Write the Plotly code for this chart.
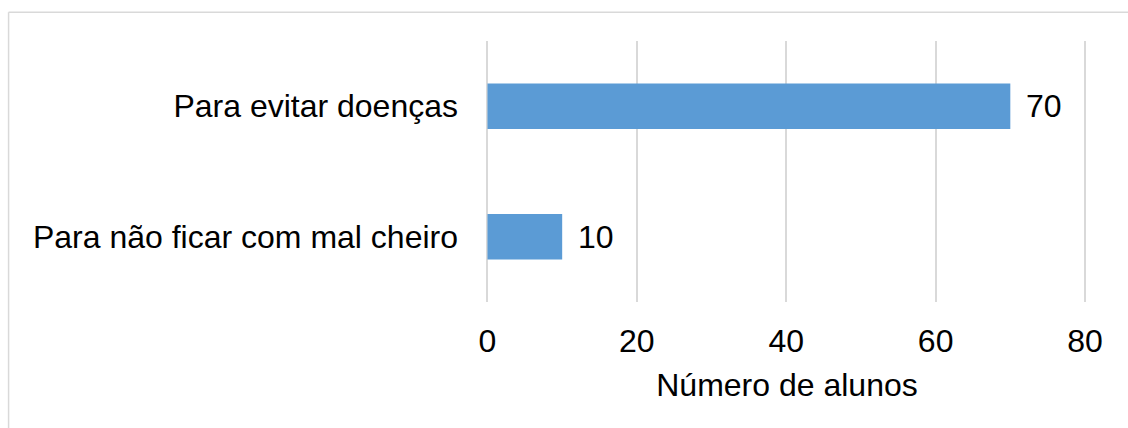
import plotly.graph_objects as go

# Survey answers: reasons given for washing hands
categorias = ["Para não ficar com mal cheiro", "Para evitar doenças"]
alunos = [10, 70]
ticks_x = [0, 20, 40, 60, 80]

W, H = 1128, 428
X0_PX, X80_PX = 487, 1085          # pixel positions of 0 and 80 on the value axis
K = (X80_PX - X0_PX) / 80          # pixels per student
X_RANGE = [-0.2, 80.4]             # small padding so the edge gridlines are kept
ML = X0_PX + X_RANGE[0] * K
MR = W - (X0_PX + X_RANGE[1] * K)
MT, MB = 40.5, 125.5
plot_w = W - ML - MR
plot_h = H - MT - MB

FONT = "Liberation Sans, Arial, sans-serif"
FS = 32
GRID = "#d9d9d9"

fig = go.Figure(
    go.Bar(
        x=alunos,
        y=categorias,
        orientation="h",
        marker=dict(color="#5b9bd5", line=dict(width=0)),
        width=0.35,
        hoverinfo="x+y",
    )
)

# value labels just past the end of each bar
for cat, val in zip(categorias, alunos):
    fig.add_annotation(
        x=val, y=cat, xref="x", yref="y",
        text=str(val), showarrow=False,
        xanchor="left", yanchor="middle", xshift=14,
        font=dict(family=FONT, size=FS, color="#000000"),
    )


def px_x(p):
    return (p - ML) / plot_w


def px_y(p):
    return (H - MB - p) / plot_h


# thin frame along the top and left edges of the chart area
frame_left, frame_top = 7.7, 11.7
fig.add_shape(type="line", xref="paper", yref="paper",
              x0=px_x(frame_left), x1=px_x(W + 5), y0=px_y(frame_top), y1=px_y(frame_top),
              line=dict(color=GRID, width=1.5))
fig.add_shape(type="line", xref="paper", yref="paper",
              x0=px_x(frame_left), x1=px_x(frame_left), y0=px_y(frame_top), y1=px_y(H + 5),
              line=dict(color=GRID, width=1.5))

fig.update_layout(
    width=W,
    height=H,
    margin=dict(l=ML, r=MR, t=MT, b=MB, pad=0),
    paper_bgcolor="white",
    plot_bgcolor="white",
    showlegend=False,
    font=dict(family=FONT, size=FS, color="#000000"),
    xaxis=dict(
        range=X_RANGE,
        tickvals=ticks_x,
        ticktext=[str(t) for t in ticks_x],
        showgrid=True,
        gridcolor=GRID,
        gridwidth=1.5,
        zeroline=True,
        zerolinecolor=GRID,
        zerolinewidth=1.5,
        showline=False,
        ticks="outside",
        ticklen=11,
        tickcolor="rgba(0,0,0,0)",
        tickfont=dict(family=FONT, size=FS, color="#000000"),
        title=dict(text="Número de alunos", font=dict(family=FONT, size=FS, color="#000000"), standoff=15),
        fixedrange=True,
    ),
    yaxis=dict(
        categoryorder="array",
        categoryarray=categorias,
        showgrid=False,
        zeroline=False,
        showline=False,
        ticks="",
        ticklabelstandoff=int(round(28 + X_RANGE[0] * K)),
        tickfont=dict(family=FONT, size=FS, color="#000000"),
        fixedrange=True,
    ),
)

fig.write_html("out.html")
